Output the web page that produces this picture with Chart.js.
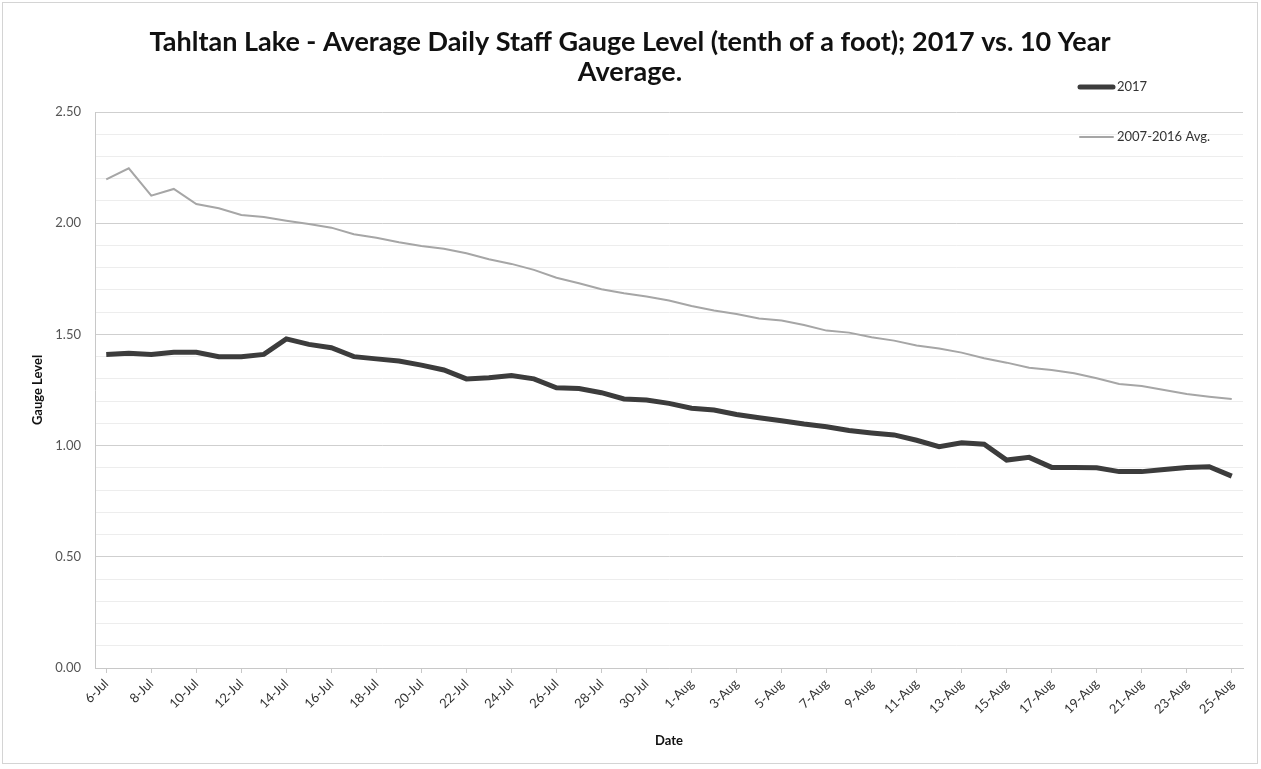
<!DOCTYPE html>
<html>
<head>
<meta charset="utf-8">
<script src="https://cdn.jsdelivr.net/npm/chart.js@4"></script>
<style>
  html, body { margin: 0; padding: 0; background: #fff; }
  #wrap { width: 1261px; height: 769px; }
</style>
</head>
<body>
<div id="wrap"><canvas id="chart"></canvas></div>
<script>
const days = ['6-Jul','7-Jul','8-Jul','9-Jul','10-Jul','11-Jul','12-Jul','13-Jul','14-Jul','15-Jul',
  '16-Jul','17-Jul','18-Jul','19-Jul','20-Jul','21-Jul','22-Jul','23-Jul','24-Jul','25-Jul',
  '26-Jul','27-Jul','28-Jul','29-Jul','30-Jul','31-Jul','1-Aug','2-Aug','3-Aug','4-Aug',
  '5-Aug','6-Aug','7-Aug','8-Aug','9-Aug','10-Aug','11-Aug','12-Aug','13-Aug','14-Aug',
  '15-Aug','16-Aug','17-Aug','18-Aug','19-Aug','20-Aug','21-Aug','22-Aug','23-Aug','24-Aug','25-Aug'];

const level2017 = [1.41, 1.415, 1.41, 1.42, 1.42, 1.40, 1.40, 1.41, 1.48, 1.455,
  1.44, 1.40, 1.39, 1.38, 1.362, 1.34, 1.30, 1.305, 1.315, 1.30,
  1.26, 1.257, 1.238, 1.21, 1.205, 1.19, 1.168, 1.16, 1.14, 1.125,
  1.112, 1.097, 1.085, 1.068, 1.057, 1.048, 1.024, 0.995, 1.013, 1.006,
  0.935, 0.947, 0.902, 0.902, 0.90, 0.883, 0.883, 0.893, 0.902, 0.905, 0.863];

const avg10yr = [2.197, 2.247, 2.124, 2.154, 2.086, 2.067, 2.037, 2.028, 2.011, 1.996,
  1.98, 1.95, 1.935, 1.914, 1.897, 1.885, 1.865, 1.838, 1.817, 1.79,
  1.755, 1.73, 1.703, 1.685, 1.67, 1.652, 1.628, 1.607, 1.592, 1.572,
  1.562, 1.542, 1.517, 1.508, 1.487, 1.472, 1.45, 1.437, 1.418, 1.393,
  1.373, 1.35, 1.34, 1.325, 1.303, 1.277, 1.268, 1.25, 1.232, 1.22, 1.21];

const titleLines = ['Tahltan Lake - Average Daily Staff Gauge Level (tenth of a foot); 2017 vs. 10 Year', 'Average.'];

const ctx = document.getElementById('chart').getContext('2d');

// title, frame and legend drawn by hand to sit where the original has them
const decor = {
  id: 'decor',
  afterDraw(chart) {
    const c = chart.ctx;
    c.save();
    c.strokeStyle = '#d4d4d4';
    c.lineWidth = 1;
    c.strokeRect(2.5, 2.5, 1255, 761);

    c.fillStyle = '#111';
    c.font = 'bold 27px Lato';
    c.textAlign = 'center';
    c.textBaseline = 'middle';
    c.fillText(titleLines[0], 630, 42);
    c.fillText(titleLines[1], 630, 72);

    const ds = chart.data.datasets;
    const rows = [87, 137];
    c.textAlign = 'left';
    c.font = '13px Lato';
    ds.forEach((d, i) => {
      c.strokeStyle = d.borderColor;
      c.lineWidth = d.borderWidth;
      c.lineCap = 'round';
      c.beginPath();
      c.moveTo(1080, rows[i]);
      c.lineTo(1113, rows[i]);
      c.stroke();
      c.fillStyle = '#333';
      c.fillText(d.label, 1117, rows[i]);
    });
    c.restore();
  }
};

new Chart(ctx, {
  type: 'line',
  data: {
    labels: days,
    datasets: [
      {
        label: '2017',
        data: level2017,
        borderColor: '#3c3c3c',
        borderWidth: 5,
        pointRadius: 0,
        tension: 0
      },
      {
        label: '2007-2016 Avg.',
        data: avg10yr,
        borderColor: '#a6a6a6',
        borderWidth: 2,
        pointRadius: 0,
        tension: 0
      }
    ]
  },
  options: {
    responsive: true,
    maintainAspectRatio: false,
    animation: false,
    layout: { padding: { left: 0, right: 18, top: 112, bottom: 0 } },
    plugins: {
      legend: { display: false },
      tooltip: { enabled: false }
    },
    scales: {
      x: {
        offset: true,
        afterFit: (s) => { s.height = 101; },
        border: { color: '#c8c8c8' },
        grid: {
          drawOnChartArea: false,
          tickLength: 5,
          color: (c) => c.index % 2 === 0 ? '#c8c8c8' : 'rgba(0,0,0,0)'
        },
        ticks: {
          autoSkip: false,
          maxRotation: 45,
          minRotation: 45,
          padding: 3,
          color: '#333',
          font: { family: 'Lato', size: 13 },
          callback: function (v, i) { return i % 2 === 0 ? this.getLabelForValue(v) : ''; }
        },
        title: {
          display: true,
          text: 'Date',
          color: '#111',
          font: { family: 'Lato', size: 13, weight: 'bold' },
          padding: { top: 0, bottom: 20 }
        }
      },
      y: {
        min: 0,
        max: 2.5,
        afterFit: (s) => { s.width = 95; },
        border: { color: '#c8c8c8' },
        grid: {
          drawTicks: false,
          color: (c) => Math.abs(c.tick.value * 2 - Math.round(c.tick.value * 2)) < 1e-6 ? '#cfcfcf' : '#ededed'
        },
        ticks: {
          stepSize: 0.1,
          autoSkip: false,
          padding: 14,
          color: '#555',
          font: { family: 'Lato', size: 13 },
          callback: (v) => Math.abs(v * 2 - Math.round(v * 2)) < 1e-6 ? v.toFixed(2) : ''
        },
        title: {
          display: true,
          text: 'Gauge Level',
          color: '#111',
          font: { family: 'Lato', size: 13, weight: 'bold' },
          padding: { top: 30, bottom: 0 }
        }
      }
    }
  },
  plugins: [decor]
});
</script>
</body>
</html>
